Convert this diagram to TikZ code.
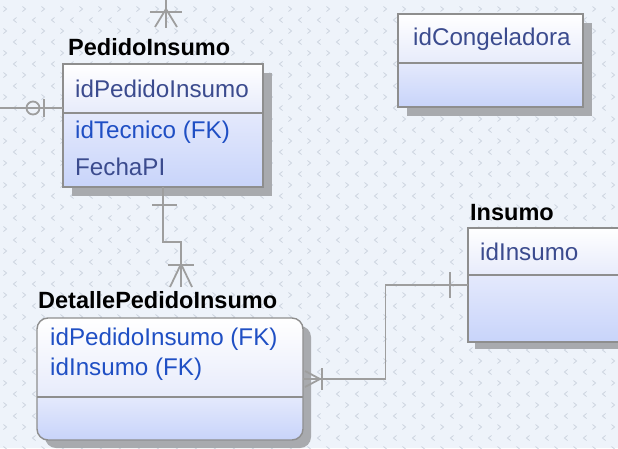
\documentclass[tikz,border=0pt]{standalone}
\usepackage{fontspec}
\setmainfont{Liberation Sans}
\usetikzlibrary{calc}

\definecolor{bgc}{HTML}{EEF3FA}
\definecolor{patc}{HTML}{CCD4DF}
\definecolor{boxline}{HTML}{8E8E8E}
\definecolor{shadowc}{HTML}{A8AAAE}
\definecolor{keytop}{HTML}{FFFFFF}
\definecolor{keybot}{HTML}{E7EBFB}
\definecolor{attrtop}{HTML}{E4E9FC}
\definecolor{attrbot}{HTML}{C8D4FA}
\definecolor{pkc}{HTML}{3B4B8E}
\definecolor{fkc}{HTML}{1F4FC4}
\definecolor{linkc}{HTML}{9E9E9E}

\tikzset{
  entitytitle/.style={anchor=base west, inner sep=0pt, font=\fontsize{23.5}{28}\selectfont\bfseries},
  attr/.style={anchor=base west, inner sep=0pt, font=\fontsize{24.2}{29}\selectfont, text=pkc},
  fkattr/.style={attr, text=fkc},
  link/.style={draw=linkc, line width=1.8pt},
  boxframe/.style={draw=boxline, line width=1.4pt, anchor=north west, inner sep=0pt, outer sep=0pt},
  divider/.style={draw=boxline, line width=1.4pt},
  chevron/.style={draw=patc, line width=0.8pt},
}

% entity box: name, left x, top y, width, key-section height, total height, shadow offset
\newcommand{\erbox}[7]{%
  \fill[shadowc] (#2+#7,#3+#7) rectangle ++(#4,#6);
  \shade[top color=keytop, bottom color=keybot] (#2,#3) rectangle (#2+#4,#3+#5);
  \shade[top color=attrtop, bottom color=attrbot] (#2,#3+#5) rectangle (#2+#4,#3+#6);
  \node[boxframe, minimum width=#4pt, minimum height=#6pt] (#1) at (#2,#3) {};
  \draw[divider] (#2,#3+#5) -- (#2+#4,#3+#5);
}

\begin{document}
\begin{tikzpicture}[x=1pt, y=-1pt]
  \useasboundingbox (0,0) rectangle (618,448);
  \clip (0,0) rectangle (618,448);
  \fill[bgc] (0,0) rectangle (618,448);

  % background grid of small chevrons
  \foreach \j in {0,...,20} {
    \foreach \k in {0,...,32} {
      \draw[chevron] (5+19*\k-1.5, 9+22*\j-2.5) -- (5+19*\k+1.5, 9+22*\j) -- (5+19*\k-1.5, 9+22*\j+2.5);
      \draw[chevron] (15+19*\k+1.5, 20+22*\j-2.5) -- (15+19*\k-1.5, 20+22*\j) -- (15+19*\k+1.5, 20+22*\j+2.5);
    }
  }

  % entities
  \erbox{ped}{63}{64}{200}{49}{123}{9}
  \erbox{cong}{398}{14}{185}{49}{93}{9}
  \erbox{ins}{468}{228}{170}{47}{114}{7}

  % rounded entity
  \fill[shadowc, rounded corners=11pt] (45,326) rectangle ++(266,122);
  \begin{scope}
    \clip[rounded corners=11pt] (37,318) rectangle (303,440);
    \shade[top color=keytop, bottom color=keybot] (37,318) rectangle (303,397);
    \shade[top color=attrtop, bottom color=attrbot] (37,397) rectangle (303,440);
  \end{scope}
  \node[boxframe, rounded corners=11pt, minimum width=266pt, minimum height=122pt] (det) at (37,318) {};
  \draw[divider] (37,397) -- (303,397);

  % titles
  \node[entitytitle] (pedt) at (68,55) {PedidoInsumo};
  \node[entitytitle] (inst) at (470,220) {Insumo};
  \node[entitytitle] (dett) at (38,308) {DetallePedidoInsumo};

  % attributes
  \node[attr] (pedk) at (75,97) {idPedidoInsumo};
  \node[fkattr] (peda) at (75,138) {idTecnico (FK)};
  \node[attr] (pedb) at (75,175) {FechaPI};
  \node[attr] (congk) at (413,45) {idCongeladora};
  \node[attr] (insk) at (480,260) {idInsumo};
  \node[fkattr] (deta) at (50,345) {idPedidoInsumo (FK)};
  \node[fkattr] (detb) at (50,375) {idInsumo (FK)};

  % connector entering from the top
  \coordinate (topin) at (166,0);
  \coordinate (topfoot) at (166,28);
  \draw[link] (topin) -- (topfoot);
  \draw[link] (150,12) -- (182,12);
  \draw[link] (166,9) -- (155,27) (166,9) -- (177,27);

  % connector entering from the left
  \coordinate (leftin) at (0,108);
  \draw[link] (leftin) -- (ped.west |- leftin);
  \draw[link, fill=bgc] (33,108) circle (6.5pt);
  \draw[link] (0,108) -- (42,108);
  \draw[link] (44,99) -- (44,117);

  % PedidoInsumo to DetallePedidoInsumo
  \coordinate (detin) at (181,287);
  \draw[link] (ped.south) |- ($(ped.south)!.55!(detin)$) -| (detin);
  \draw[link] (152,205) -- (177,205);
  \draw[link] (168,265) -- (194,265);
  \draw[link] (181,264) -- (170,287) (181,264) -- (192,287);

  % Insumo to DetallePedidoInsumo
  \draw[link] (ins.west) -| ($(ins.west)!.5!(det.east)$) |- (det.east);
  \draw[link] ([xshift=-18pt, yshift=-13pt]ins.west) -- ([xshift=-18pt, yshift=13pt]ins.west);
  \draw[link] ([xshift=19pt, yshift=-11pt]det.east) -- ([xshift=19pt, yshift=11pt]det.east);
  \draw[link] ([xshift=17pt]det.east) -- ([xshift=2pt, yshift=8pt]det.east)
              ([xshift=17pt]det.east) -- ([xshift=2pt, yshift=-8pt]det.east);
\end{tikzpicture}
\end{document}
